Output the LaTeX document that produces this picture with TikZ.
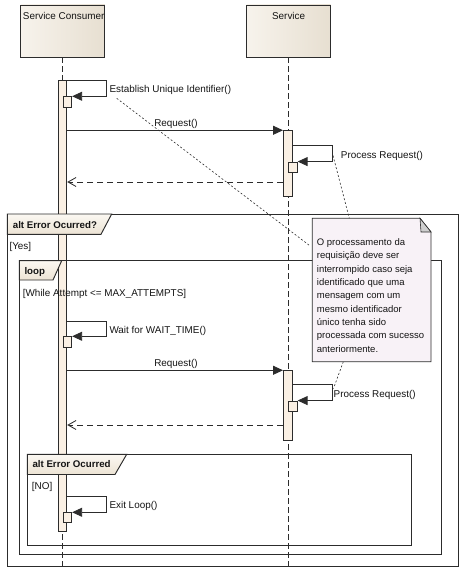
\documentclass[tikz,border=0pt]{standalone}
\usepackage{fontspec}
\setmainfont{Liberation Sans}
\usetikzlibrary{arrows.meta,calc}
\definecolor{hdrL}{HTML}{F7F3EC}
\definecolor{hdrR}{HTML}{E7DFD1}
\definecolor{tabT}{HTML}{FBF8F2}
\definecolor{tabB}{HTML}{ECE3D4}
\definecolor{barfill}{HTML}{FAF0E4}
\definecolor{notefill}{HTML}{F8F2F7}
\definecolor{foldfill}{HTML}{CFCFCF}
\definecolor{ln}{HTML}{2C2C2C}
\definecolor{txt}{HTML}{141414}
\begin{document}
\begin{tikzpicture}[x=1pt,y=-1pt,
  every node/.style={font=\fontsize{9.9}{11}\selectfont, inner sep=0pt, text=txt},
  header/.style={draw=ln, line width=0.9pt, left color=hdrL, right color=hdrR,
    minimum width=84pt, minimum height=52pt},
  lifeline/.style={draw=ln, line width=0.8pt, dash pattern=on 6pt off 3pt},
  bar/.style={draw=ln, line width=0.85pt, fill=barfill, minimum width=8pt},
  sbox/.style={draw=ln, line width=0.85pt, fill=barfill, minimum width=8.4pt},
  msg/.style={draw=ln, line width=0.85pt, -{Triangle[length=10pt,width=9pt]}},
  ret/.style={draw=ln, line width=0.85pt, dash pattern=on 6pt off 4pt,
    -{Straight Barb[length=8pt,width=9pt]}},
  lbl/.style={anchor=base west},
  frame/.style={draw=ln, line width=0.95pt},
  tab/.style={draw=ln, line width=0.95pt, top color=tabT, bottom color=tabB},
  tablbl/.style={anchor=base west, font=\fontsize{9.7}{11}\selectfont\bfseries},
  notelink/.style={draw=ln, line width=0.6pt, dash pattern=on 2pt off 2pt},
  note/.style={draw=ln, line width=0.85pt, fill=notefill},
  notetxt/.style={anchor=base west, font=\fontsize{9.5}{11}\selectfont},
]
\useasboundingbox (0,0) rectangle (466,577);

% headers
\node[header] (hc) at (62.8,31) {};
\node[header] (hs) at (288.6,31) {};
\node[anchor=base west] (thc) at (22.7,19.1) {Service Consumer};
\node[anchor=base] (ths) at (288.6,19.1) {Service};

% lifelines
\coordinate (cEnd) at (62.8,567);
\coordinate (sEnd) at (288.6,567);
\draw[lifeline] (hc.south) -- (cEnd);
\draw[lifeline] (hs.south) -- (sEnd);

% activation bars
\node[bar, minimum height=450.6pt] (cb) at (62.8,306) {};
\node[bar, minimum height=66pt, minimum width=8.7pt] (sb1) at (287.8,163.7) {};
\node[bar, minimum height=69.3pt, minimum width=8.7pt] (sb2) at (287.8,405.35) {};

% nested execution boxes
\node[sbox, minimum height=10.6pt] (e1) at (67.5,102) {};
\node[sbox, minimum height=10.7pt] (p1) at (293,167.35) {};
\node[sbox, minimum height=10.6pt] (w1) at (67.5,342) {};
\node[sbox, minimum height=10.7pt] (p2) at (293,406.35) {};
\node[sbox, minimum height=10pt] (x1) at (67.5,517.7) {};

% messages
\draw[msg] (cb.north east) -- ++(39.2,0) |- (e1.north east);
\node[lbl] (le1) at (109.3,92.6) {Establish Unique Identifier()};

\draw[msg] (cb.east |- sb1.north) -- (sb1.north west);
\node[anchor=base] (lr1) at (176,126.3) {Request()};

\draw[msg] ($(sb1.north east)+(0,15.3)$) -- ++(39.6,0) |- (p1.north east);
\node[lbl] (lp1) at (340.7,158.8) {Process Request()};

\draw[ret] (sb1.west |- 0,182) -- (cb.east |- 0,182);

\draw[msg] (cb.east |- 0,321.7) -- ++(39.2,0) |- (w1.north east);
\node[lbl] (lw1) at (109.3,333.6) {Wait for WAIT\_TIME()};

\draw[msg] (cb.east |- sb2.north) -- (sb2.north west);
\node[anchor=base] (lr2) at (176,366.6) {Request()};

\draw[msg] ($(sb2.north east)+(0,14.3)$) -- ++(39.6,0) |- (p2.north east);
\node[lbl] (lp2) at (333.5,397.5) {Process Request()};

\draw[ret] (sb2.west |- 0,425) -- (cb.east |- 0,425);

\draw[msg] (cb.east |- 0,496.7) -- ++(39.2,0) |- (x1.north east);
\node[lbl] (lx1) at (109.3,508.6) {Exit Loop()};

% combined fragments
\draw[frame] (7.3,214) rectangle (458.7,566.7);
\draw[tab] (7.3,214) -- (111.7,214) -- (101,234.3) -- (7.3,234.3) -- cycle;
\node[tablbl] (ta1) at (12.7,228.6) {alt Error Ocurred?};
\node[lbl] (g1) at (9.3,249.3) {[Yes]};

\draw[frame] (19.3,260.7) rectangle (441.5,554.3);
\draw[tab] (19.3,260.7) -- (61.7,260.7) -- (53,280) -- (19.3,280) -- cycle;
\node[tablbl] (tl) at (24.3,274) {loop};
\node[lbl] (g2) at (22.7,296) {[While Attempt <= MAX\_ATTEMPTS]};

\draw[frame] (27.3,454.3) rectangle (411,545);
\draw[tab] (27.3,454.3) -- (126.7,454.3) -- (115,474.5) -- (27.3,474.5) -- cycle;
\node[tablbl] (ta2) at (32.3,467.8) {alt Error Ocurred};
\node[lbl] (g3) at (31.7,489.3) {[NO]};

% note
\coordinate (nl1) at (116.7,98.3);
\coordinate (nl2) at (309.5,245.5);
\coordinate (nl3) at (333,155.5);
\coordinate (nl4) at (349.3,218.3);
\coordinate (nl5) at (343.3,361.7);
\coordinate (nl6) at (333.5,388.5);
\draw[notelink] (nl1) -- (nl2);
\draw[notelink] (nl3) -- (nl4);
\draw[notelink] (nl5) -- (nl6);

\draw[note] (312.3,218.3) -- (420,218.3) -- (431,232) -- (431,361.7) -- (312.3,361.7) -- cycle;
\draw[draw=ln, line width=0.6pt, fill=foldfill] (420,218.3) -- (421,232) -- (431,232) -- cycle;
\foreach \t [count=\i from 0] in {O processamento da, requisição deve ser, interrompido caso seja, identificado que uma, mensagem com um, mesmo identificador, único tenha sido, processada com sucesso, anteriormente.}{
  \node[notetxt] (nt\i) at (316.7,245.4+13.33*\i) {\t};
}
\end{tikzpicture}
\end{document}
